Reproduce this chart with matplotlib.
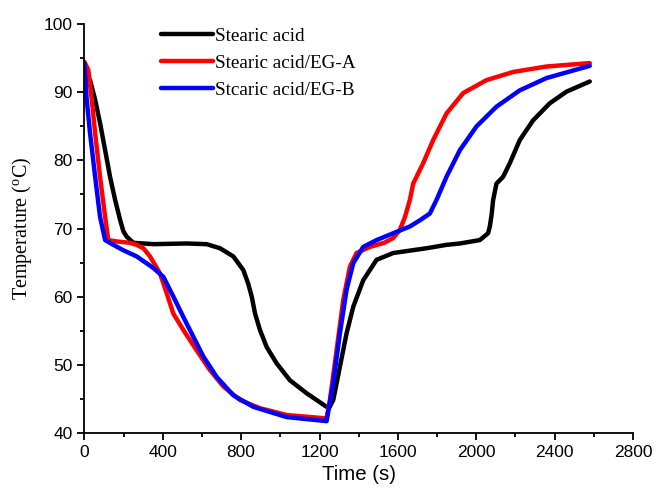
import numpy as np
import matplotlib.pyplot as plt

# time (s) / temperature (C)
t_sa = [0, 29, 55, 80, 106, 131, 157, 182, 199, 216, 250, 352, 522, 624, 692, 760, 811, 836,
        854, 871, 896, 930, 981, 1049, 1134, 1236, 1250, 1270, 1304, 1338, 1372, 1423, 1491,
        1576, 1746, 1848, 1916, 2018, 2060, 2069, 2078, 2086, 2103, 2137, 2171, 2222, 2290,
        2375, 2460, 2579]
T_sa = [91.8, 91.8, 88.9, 85.5, 81.5, 77.6, 74.2, 71.3, 69.6, 68.8, 67.9, 67.7, 67.8, 67.7,
        67.1, 65.9, 63.9, 61.9, 60.0, 57.5, 55.1, 52.6, 50.2, 47.7, 45.8, 43.8, 43.7, 44.8,
        49.7, 54.6, 58.5, 62.4, 65.4, 66.4, 67.1, 67.6, 67.8, 68.3, 69.3, 70.3, 72.0, 74.2,
        76.6, 77.6, 79.6, 83.0, 85.9, 88.4, 90.1, 91.6]

t_a = [0, 20, 38, 55, 80, 106, 122, 165, 233, 267, 301, 335, 386, 420, 454, 505, 573, 641,
       709, 794, 896, 1032, 1236, 1253, 1287, 1321, 1355, 1389, 1457, 1530, 1576, 1610, 1636,
       1661, 1678, 1729, 1780, 1848, 1933, 2052, 2188, 2358, 2579]
T_a = [94.5, 93.3, 88.9, 84.0, 77.6, 71.7, 68.3, 68.1, 67.9, 67.6, 67.1, 65.9, 63.4, 60.5,
       57.5, 55.1, 52.1, 49.2, 46.8, 44.8, 43.6, 42.6, 42.1, 44.8, 52.1, 59.5, 64.4, 66.4,
       67.3, 67.9, 68.6, 69.8, 71.7, 74.2, 76.6, 79.6, 83.0, 86.9, 89.9, 91.8, 93.0, 93.8, 94.3]

t_b = [0, 12, 29, 55, 80, 106, 148, 199, 267, 352, 403, 454, 505, 556, 607, 675, 760, 862,
       1032, 1236, 1270, 1304, 1338, 1372, 1423, 1491, 1576, 1661, 1712, 1763, 1797, 1848,
       1916, 2001, 2103, 2222, 2358, 2579]
T_b = [94.3, 88.9, 84.0, 77.6, 71.7, 68.3, 67.6, 66.8, 65.9, 64.2, 62.9, 60.0, 57.0, 54.1,
       51.2, 48.2, 45.5, 43.8, 42.3, 41.7, 47.3, 54.6, 61.0, 64.9, 67.3, 68.3, 69.3, 70.3,
       71.2, 72.2, 74.2, 77.6, 81.5, 85.0, 87.9, 90.3, 92.1, 93.9]

labels = ['Stearic acid', 'Stearic acid/EG-A', 'Stcaric acid/EG-B']

fig = plt.figure(figsize=(6.54, 4.96), dpi=100)
ax = fig.add_axes([0.129, 0.1276, 0.839, 0.8234])

ax.plot(t_sa, T_sa, color='black', lw=3.2, label=labels[0], solid_capstyle='round', solid_joinstyle='round')
ax.plot(t_a, T_a, color='#ff0000', lw=3.2, label=labels[1], solid_capstyle='round', solid_joinstyle='round')
ax.plot(t_b, T_b, color='#0000ff', lw=3.2, label=labels[2], solid_capstyle='round', solid_joinstyle='round')

ax.set_xlim(0, 2800)
ax.set_ylim(40, 100)
ax.set_xticks(np.arange(0, 2801, 400))
ax.set_xticks(np.arange(200, 2800, 400), minor=True)
ax.set_yticks(np.arange(40, 101, 10))
ax.set_yticks(np.arange(45, 100, 10), minor=True)
ax.spines['top'].set_visible(False)
ax.spines['right'].set_visible(False)
for s in ['left', 'bottom']:
    ax.spines[s].set_linewidth(1.3)
ax.tick_params(which='major', direction='out', length=5, width=1.3)
ax.tick_params(which='minor', direction='out', length=3, width=1.3)
for lab in ax.get_xticklabels() + ax.get_yticklabels():
    lab.set_fontfamily('Liberation Sans')
    lab.set_fontsize(12.5)

ax.set_xlabel('Time (s)', fontfamily='Liberation Sans', fontsize=14.7)
ax.set_ylabel('Temperature ($\\mathregular{^o}$C)', fontfamily='Liberation Serif',
              fontsize=14.5, labelpad=7)

leg = ax.legend(loc='upper left', bbox_to_anchor=(0.108, 1.035), frameon=False,
                prop={'family': 'Liberation Serif', 'size': 13.8}, handlelength=2.7,
                handletextpad=0.1, labelspacing=0.5)

fig.savefig('out.png', dpi=100)
